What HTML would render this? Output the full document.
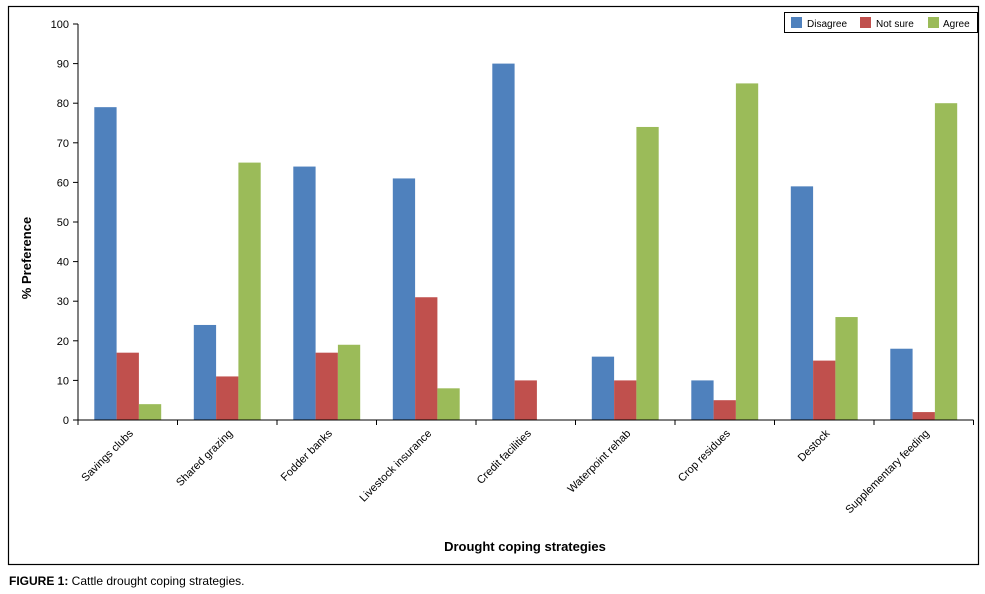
<!DOCTYPE html>
<html><head><meta charset="utf-8"><style>
body{margin:0;background:#fff;width:985px;height:594px;overflow:hidden;font-family:"Liberation Sans",sans-serif}
svg{position:absolute;left:0;top:0}
</style></head><body>
<svg width="985" height="594" font-family="Liberation Sans, sans-serif">
<rect x="8.5" y="6.5" width="970" height="558" fill="none" stroke="#000" stroke-width="1.2"/>
<g id="grid"></g><g id="bars"></g><g id="axes"></g>
<g>
<rect x="784.5" y="12.5" width="193" height="20" fill="#fff" stroke="#000"/>
<rect x="791" y="17" width="11" height="11" fill="#4f81bd"/>
<text x="807" y="27" font-size="10">Disagree</text>
<rect x="860" y="17" width="11" height="11" fill="#c0504d"/>
<text x="876" y="27" font-size="10">Not sure</text>
<rect x="928" y="17" width="11" height="11" fill="#9bbb59"/>
<text x="943" y="27" font-size="10">Agree</text>
</g>
<text transform="translate(31,258) rotate(-90)" text-anchor="middle" font-size="13" font-weight="bold">% Preference</text>
<text x="525" y="551" text-anchor="middle" font-size="13" font-weight="bold">Drought coping strategies</text>
<text x="9" y="585" font-size="12"><tspan font-weight="bold">FIGURE 1:</tspan> Cattle drought coping strategies.</text>
</svg>
<script>
const categories=["Savings clubs","Shared grazing","Fodder banks","Livestock insurance","Credit facilities","Waterpoint rehab","Crop residues","Destock","Supplementary feeding"];
const disagree=[79,24,64,61,90,16,10,59,18];
const notSure=[17,11,17,31,10,10,5,15,2];
const agree=[4,65,19,8,0,74,85,26,80];
const yTicks=[0,10,20,30,40,50,60,70,80,90,100];
const ns="http://www.w3.org/2000/svg";
const X0=78,X1=973.5,Y0=420,Y1=24;
const bw=(X1-X0)/categories.length;
const y=v=>Y0-(v/100)*(Y0-Y1);
const xc=i=>X0+bw*(i+0.5);
function mk(t,a,p){const e=document.createElementNS(ns,t);for(const k in a)e.setAttribute(k,a[k]);p.appendChild(e);return e;}
const bars=document.getElementById('bars'),axes=document.getElementById('axes');
const series=[[disagree,"#4f81bd","disagree"],[notSure,"#c0504d","not-sure"],[agree,"#9bbb59","agree"]];
const barW=22.3;
categories.forEach((c,i)=>{
  series.forEach((s,j)=>{
    const v=s[0][i];
    const r=mk('rect',{x:xc(i)-1.5*barW+j*barW,y:y(v),width:barW,height:Y0-y(v),fill:s[1]},bars);
    
    
  });
  const t=mk('text',{x:xc(i)+6,y:Y0+14,'text-anchor':'end','font-size':11,transform:`rotate(-45 ${xc(i)+6} ${Y0+14})`},axes);
  t.textContent=c;
  
  
});
mk('line',{x1:X0,y1:Y1,x2:X0,y2:Y0,stroke:'#000'},axes);
mk('line',{x1:X0,y1:Y0,x2:X1,y2:Y0,stroke:'#000'},axes);
for(let i=0;i<=categories.length;i++)mk('line',{x1:X0+bw*i,y1:Y0,x2:X0+bw*i,y2:Y0+5,stroke:'#000'},axes);
yTicks.forEach(v=>{
  mk('line',{x1:X0-5,y1:y(v),x2:X0,y2:y(v),stroke:'#000'},axes);
  const t=mk('text',{x:X0-9,y:y(v)+4,'text-anchor':'end','font-size':11},axes);
  t.textContent=v;
  
  
});
</script>
</body></html>
